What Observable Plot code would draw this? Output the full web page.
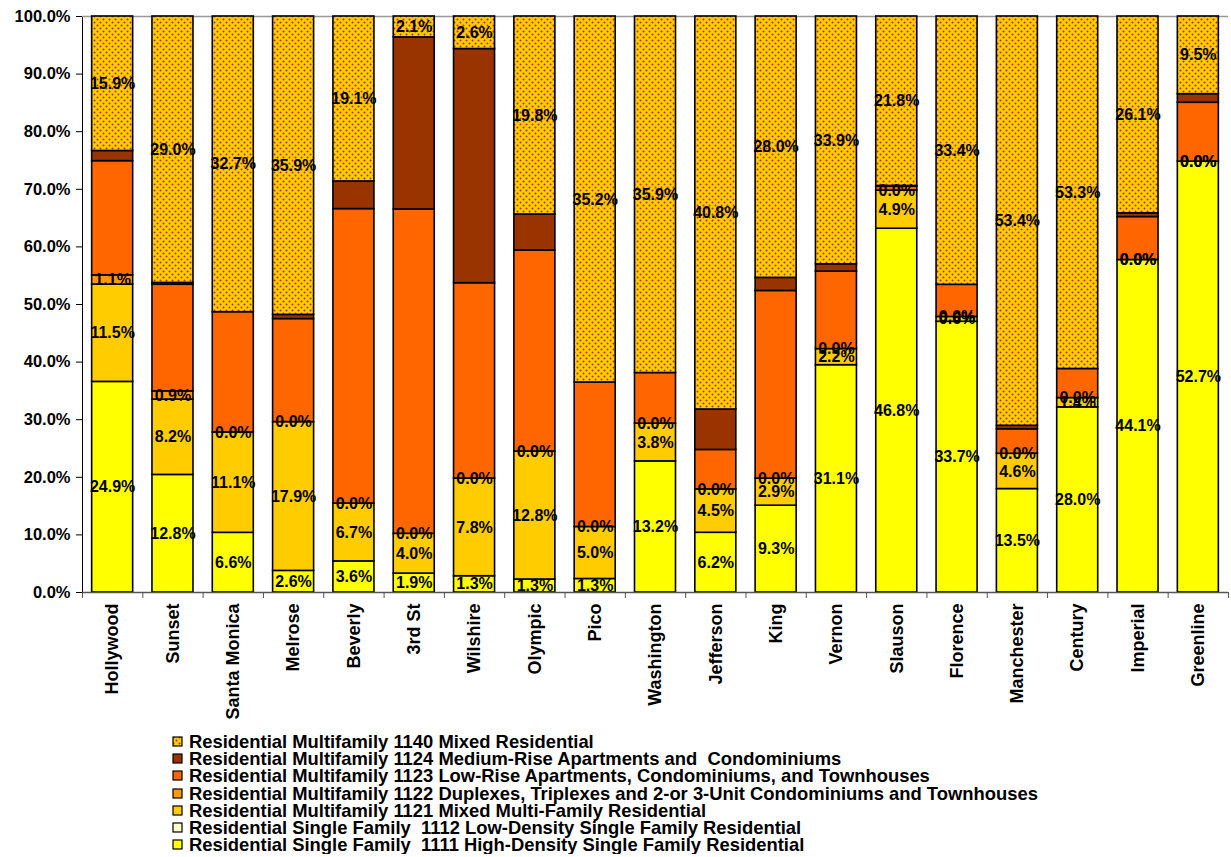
<!DOCTYPE html>
<html><head><meta charset="utf-8">
<script src="https://cdn.jsdelivr.net/npm/d3@7"></script>
<script src="https://cdn.jsdelivr.net/npm/@observablehq/plot@0.6"></script>
<style>
body{margin:0;background:#fff;font-family:"Liberation Sans",Arial,sans-serif;}
#chart svg{display:block;}
#legend{margin-left:172px;margin-top:8px;}
.row{display:flex;align-items:center;height:17.3px;font-weight:bold;font-size:18.4px;white-space:pre;color:#000;}
.row svg{margin-right:5px;flex:none;}
</style></head><body>
<div id="chart"></div>
<div id="legend"></div>
<script>
const categories = ["Hollywood","Sunset","Santa Monica","Melrose","Beverly","3rd St","Wilshire","Olympic","Pico","Washington","Jefferson","King","Vernon","Slauson","Florence","Manchester","Century","Imperial","Greenline"];
const seriesKeys = ["1111","1112","1121","1122","1123","1124","1140"];
const seriesLabels = [
  "Residential Single Family  1111 High-Density Single Family Residential",
  "Residential Single Family  1112 Low-Density Single Family Residential",
  "Residential Multifamily 1121 Mixed Multi-Family Residential",
  "Residential Multifamily 1122 Duplexes, Triplexes and 2-or 3-Unit Condominiums and Townhouses",
  "Residential Multifamily 1123 Low-Rise Apartments, Condominiums, and Townhouses",
  "Residential Multifamily 1124 Medium-Rise Apartments and  Condominiums",
  "Residential Multifamily 1140 Mixed Residential"
];
const seriesColors = ["#FFFF00","#FFFFCC","#FFCC00","#FF9900","#FF6600","#993300","url(#dots)"];
const labelledSeries = ["1111","1121","1122","1140"];

const s1111 = [24.9,12.8,6.6,2.6,3.6,1.9,1.3,1.3,1.3,13.2,6.2,9.3,31.1,46.8,33.7,13.5,28.0,44.1,52.7];
const s1112 = [0,0,0,0,0,0,0,0,0,0,0,0,0,0,0,0,0,0,0];
const s1121 = [11.5,8.2,11.1,17.9,6.7,4.0,7.8,12.8,5.0,3.8,4.5,2.9,2.2,4.9,0.6,4.6,1.4,0.0,0.0];
const s1122 = [1.1,0.9,0,0,0,0,0,0,0,0,0,0,0,0,0,0,0,0,0];
const s1123 = [13.5,11.6,13.3,12.4,34.1,32.6,15.6,20.1,13.9,5.1,4.1,20.1,10.6,0.5,4.0,3.2,4.4,5.7,7.2];
const s1124 = [1.2,0.2,0,0.5,3.2,17.3,18.7,3.6,0,0,4.2,1.4,1.0,0.1,0,0.45,0,0.5,1.05];
const s1140 = [15.9,29.0,32.7,35.9,19.1,2.1,2.6,19.8,35.2,35.9,40.8,28.0,33.9,21.8,33.4,53.4,53.3,26.1,9.5];
const yTicks = [0,0.1,0.2,0.3,0.4,0.5,0.6,0.7,0.8,0.9,1.0];

const seriesValues = [s1111,s1112,s1121,s1122,s1123,s1124,s1140];
const table = categories.flatMap((c,i) => seriesKeys.map((k,j) => ({category:c, series:k, value:seriesValues[j][i]})));

const W = 1231, H = 725, mL = 82, mR = 3, mT = 16, mB = 133;
const step = (W - mL - mR) / categories.length;

const stackOpts = {x:"category", y:"value", z:"series", order:seriesKeys, offset:"normalize"};

const chart = Plot.plot({
  width: W, height: H,
  marginLeft: mL, marginRight: mR, marginTop: mT, marginBottom: mB,
  style: {fontFamily:"Liberation Sans, Arial, sans-serif", fontSize:"16.5px", fontWeight:"bold", color:"#000", background:"#fff"},
  x: {domain: categories, paddingInner: 0.32, paddingOuter: 0.16, round: false, label: null},
  y: {domain:[0,1], ticks: yTicks, tickFormat: d3.format(".1%"), tickSize: 6, tickPadding: 6, line: true, label: null},
  color: {domain: seriesKeys, range: seriesColors, type: "ordinal"},
  marks: [
    Plot.ruleY([1], {stroke:"#999", strokeWidth:1.5}),
    Plot.barY(table, Plot.stackY({...stackOpts, fill:"series", stroke:"#000", strokeWidth:1.6})),
    Plot.ruleY([0], {stroke:"#555", strokeWidth:1.5}),
    Plot.axisX({tickSize:6, tickFormat: () => "", dx: -step/2, stroke:"#555", label: null}),
    Plot.axisX({ticks:[categories[categories.length-1]], tickSize:6, tickFormat: () => "", dx: step/2, stroke:"#555", label: null}),
    Plot.axisX({tickSize:0, tickPadding:11, tickRotate:-90, fontSize:18, fontWeight:"bold", label: null}),
    Plot.text(table, Plot.stackY({...stackOpts,
      text: d => labelledSeries.includes(d.series) ? d.value.toFixed(1) + "%" : "",
      fontSize: 16, fontWeight: "bold", fill: "#000"}))
  ]
});

// dotted pattern for series 1140
const ns = "http://www.w3.org/2000/svg";
const defs = document.createElementNS(ns, "defs");
defs.innerHTML = `<pattern id="dots" width="6" height="6" patternUnits="userSpaceOnUse">
  <rect width="6" height="6" fill="#FFCC00"/>
  <circle cx="1.5" cy="1.5" r="1" fill="#B03010"/>
  <circle cx="4.5" cy="4.5" r="1" fill="#B03010"/>
</pattern>`;
chart.insertBefore(defs, chart.firstChild);
document.getElementById("chart").appendChild(chart);

// legend (top to bottom: reverse stack order)
const legend = d3.select("#legend");
for (let j = seriesKeys.length - 1; j >= 0; j--) {
  const row = legend.append("div").attr("class","row");
  const sw = row.append("svg").attr("width", 12).attr("height", 12);
  sw.append("rect").attr("x",1).attr("y",1).attr("width",9).attr("height",9)
    .attr("fill", seriesColors[j]).attr("stroke","#000").attr("stroke-width",1.2);
  row.append("span").text(seriesLabels[j]);
}
</script>
</body></html>
